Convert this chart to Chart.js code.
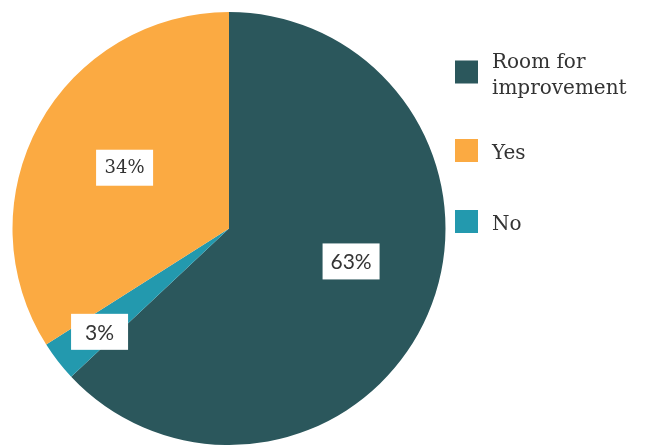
<!DOCTYPE html>
<html>
<head>
<meta charset="utf-8">
<script src="https://cdn.jsdelivr.net/npm/chart.js@4/dist/chart.umd.min.js"></script>
<style>
  body { margin: 0; background: #fff; }
  #wrap { width: 646px; height: 445px; position: relative; }
</style>
</head>
<body>
<div id="wrap"><canvas id="chart"></canvas></div>
<script>
// data, in drawing order (clockwise from the top)
const categories = ['Room for improvement', 'No', 'Yes']
const shares = [63, 3, 34]
const sliceColors = ['#2b575c', '#2399ae', '#fbaa42']
// order the legend lists them in
const legendOrder = ['Room for improvement', 'Yes', 'No']

const textColor = '#333333'
const serif = '"DejaVu Serif", serif'
const sans = 'Lato, "Open Sans", sans-serif'

// where each % label sits: fraction of radius, angle nudge (deg), font
const labelPlacement = [
    { frac: 0.584, shift: -8.3, font: '21px ' + sans },
    { frac: 0.765, shift: -0.8, font: '21px ' + sans },
    { frac: 0.558, shift: 1.4, font: '18px ' + serif }
]

const sliceLabels = {
    id: 'sliceLabels',
    afterDatasetsDraw(chart) {
        const ctx = chart.ctx
        const meta = chart.getDatasetMeta(0)
        const values = chart.data.datasets[0].data
        meta.data.forEach((arc, i) => {
            const p = arc.getProps(['x', 'y', 'startAngle', 'endAngle', 'outerRadius'], true)
            const place = labelPlacement[i]
            const mid = (p.startAngle + p.endAngle) / 2 + place.shift * Math.PI / 180
            const r = p.outerRadius * place.frac
            const cx = p.x + Math.cos(mid) * r
            const cy = p.y + Math.sin(mid) * r
            const w = 57, h = 36
            ctx.save()
            ctx.fillStyle = '#ffffff'
            ctx.fillRect(cx - w / 2, cy - h / 2, w, h)
            ctx.fillStyle = textColor
            ctx.font = place.font
            ctx.textAlign = 'center'
            ctx.textBaseline = 'middle'
            ctx.fillText(values[i] + '%', cx, cy + 1)
            ctx.restore()
        })
    }
}

// legend drawn at the right of the pie, long names wrap
const sideLegend = {
    id: 'sideLegend',
    afterDraw(chart) {
        const ctx = chart.ctx
        const left = chart.chartArea.right + 9
        const box = 23
        const textX = left + box + 14
        const lineH = 26
        const maxW = 145
        let center = 72
        ctx.save()
        ctx.font = '20px ' + serif
        legendOrder.forEach(name => {
            const i = categories.indexOf(name)
            // word wrap
            const words = name.split(' ')
            const lines = []
            let cur = ''
            words.forEach(wd => {
                const test = cur ? cur + ' ' + wd : wd
                if (cur && ctx.measureText(test).width > maxW) {
                    lines.push(cur)
                    cur = wd
                } else cur = test
            })
            lines.push(cur)

            ctx.fillStyle = sliceColors[i]
            ctx.fillRect(left, center - box / 2, box, box)
            ctx.fillStyle = textColor
            ctx.textAlign = 'left'
            ctx.textBaseline = 'alphabetic'
            lines.forEach((ln, k) => {
                const y = center + 8.5 + (k - (lines.length - 1) / 2) * lineH
                ctx.fillText(ln, textX, y)
            })
            center += 71 + 7.5 * (lines.length - 1)
        })
        ctx.restore()
    }
}

const chart = document.querySelector('#chart').getContext('2d')

new Chart(chart, {
    type: 'pie',
    data: {
        labels: categories,
        datasets: [{
            data: shares,
            backgroundColor: sliceColors,
            borderWidth: 0
        }]
    },
    options: {
        responsive: true,
        maintainAspectRatio: false,
        animation: false,
        layout: { padding: { left: 12, top: 12, bottom: 0, right: 200 } },
        plugins: {
            legend: { display: false },
            tooltip: { enabled: false }
        }
    },
    plugins: [sliceLabels, sideLegend]
})
</script>
</body>
</html>
